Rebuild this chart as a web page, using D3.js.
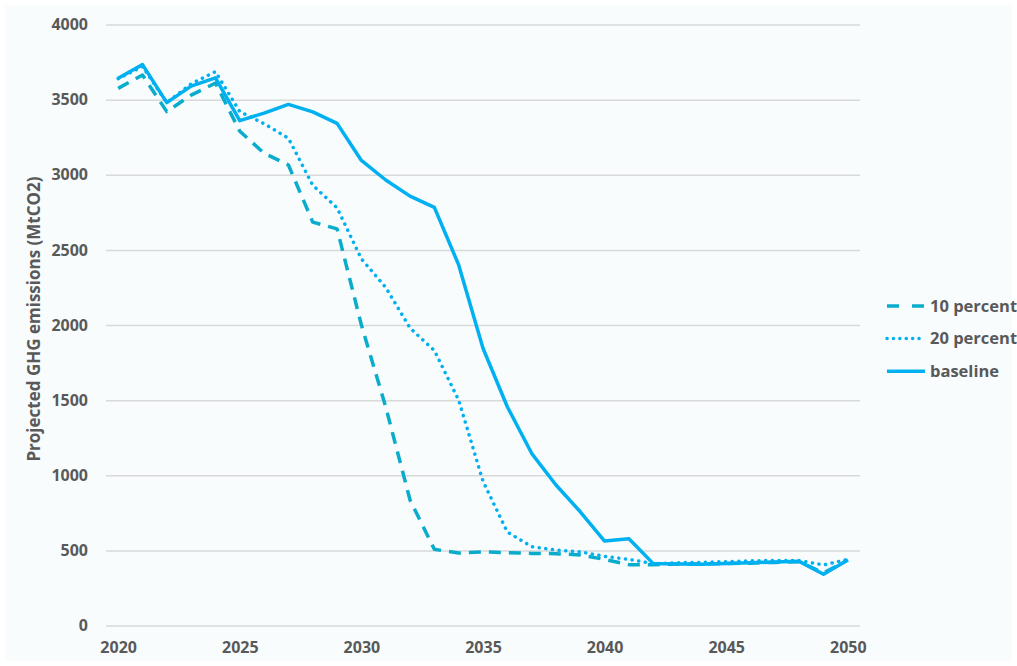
<!DOCTYPE html>
<html>
<head>
<meta charset="utf-8">
<script src="https://cdn.jsdelivr.net/npm/d3@7/dist/d3.min.js"></script>
<style>
  body { margin: 0; background: #ffffff; }
  text { font-family: "Open Sans", "Liberation Sans", sans-serif; font-weight: bold; fill: #595959; }
</style>
</head>
<body>
<div id="chart"></div>
<script>
// Chart data
var years = d3.range(2020, 2051);
var xTicks = [2020, 2025, 2030, 2035, 2040, 2045, 2050];
var yTicks = [0, 500, 1000, 1500, 2000, 2500, 3000, 3500, 4000];

var tenPercent = [3575, 3664, 3420, 3530, 3610, 3290, 3143, 3065, 2685, 2640,
                  2000, 1455, 835, 507, 482, 490, 485, 480, 478, 470,
                  440, 405, 405, 410, 410, 412, 415, 420, 425, 350, 436];
var twentyPercent = [3640, 3720, 3480, 3605, 3686, 3420, 3340, 3243, 2930, 2780,
                     2440, 2250, 1980, 1830, 1500, 960, 622, 525, 502, 490,
                     460, 440, 412, 418, 420, 425, 430, 433, 432, 403, 440];
var baseline = [3642, 3733, 3480, 3590, 3645, 3360, 3410, 3468, 3418, 3342,
                3095, 2965, 2858, 2783, 2400, 1845, 1456, 1146, 935, 757,
                562, 578, 412, 410, 407, 412, 418, 422, 427, 341, 436];

var seriesNames = ["10 percent", "20 percent", "baseline"];
var seriesValues = [tenPercent, twentyPercent, baseline];
var seriesColors = ["#0AACCB", "#00B0F0", "#00B0F0"];
var seriesDash = ["12,8", "0.1,6.6", null];

var svgWidth = 1017, svgHeight = 666;
var margin = { top: 24.5, left: 106, right: 157, bottom: 40.5 };
var chartWidth = svgWidth - margin.left - margin.right;
var chartHeight = svgHeight - margin.top - margin.bottom;

var svg = d3.select("#chart")
  .append("svg")
  .attr("width", svgWidth)
  .attr("height", svgHeight);

svg.append("rect")
  .attr("x", 5).attr("y", 5)
  .attr("width", svgWidth - 10).attr("height", svgHeight - 10)
  .attr("fill", "#f8fcfd");

var chartGroup = svg.append("g")
  .attr("transform", `translate(${margin.left}, ${margin.top})`);

// scales
var xScale = d3.scalePoint()
  .domain(years)
  .range([0, chartWidth])
  .padding(0.5);

var yScale = d3.scaleLinear()
  .domain([0, 4000])
  .range([chartHeight, 0]);

// gridlines
chartGroup.append("g")
  .call(d3.axisLeft(yScale).tickValues(yTicks).tickSize(-chartWidth).tickFormat(""))
  .call(g => g.select(".domain").remove())
  .selectAll("line")
  .attr("stroke", "#d9d9d9")
  .attr("stroke-width", 1.5);

// y axis labels
var yAxis = chartGroup.append("g")
  .call(d3.axisLeft(yScale).tickValues(yTicks).tickSize(0).tickPadding(18).tickFormat(d3.format("d")));
yAxis.select(".domain").remove();
yAxis.selectAll("text")
  .attr("font-size", "16px")
  .attr("font-family", "'Open Sans', sans-serif")
  .style("fill", "#595959");

// x axis labels
var xAxis = chartGroup.append("g")
  .attr("transform", `translate(0, ${chartHeight})`)
  .call(d3.axisBottom(xScale).tickValues(xTicks).tickSize(0).tickPadding(16));
xAxis.select(".domain").remove();
xAxis.selectAll("text")
  .attr("font-size", "16px")
  .attr("font-family", "'Open Sans', sans-serif")
  .style("fill", "#595959");

// lines
var line = d3.line()
  .x((d, i) => xScale(years[i]))
  .y(d => yScale(d));

seriesValues.forEach((vals, k) => {
  chartGroup.append("path")
    .datum(vals)
    .attr("d", line)
    .attr("fill", "none")
    .attr("stroke", seriesColors[k])
    .attr("stroke-width", 3.5)
    .attr("stroke-linejoin", "round")
    .attr("stroke-linecap", seriesDash[k] && seriesDash[k].startsWith("0.1") ? "round" : "butt")
    .attr("stroke-dasharray", seriesDash[k]);
});

// y axis title
svg.append("text")
  .attr("transform", `translate(40, 319)rotate(-90)`)
  .attr("text-anchor", "middle")
  .attr("font-size", "17px")
  .text("Projected GHG emissions (MtCO2)");

// legend
var legend = svg.append("g")
  .attr("transform", "translate(887, 306)");

seriesNames.forEach((name, k) => {
  var row = legend.append("g").attr("transform", `translate(0, ${k * 32.6})`);
  row.append("line")
    .attr("x1", 0).attr("x2", 38)
    .attr("y1", 0).attr("y2", 0)
    .attr("stroke", seriesColors[k])
    .attr("stroke-width", 3.5)
    .attr("stroke-linecap", seriesDash[k] && seriesDash[k].startsWith("0.1") ? "round" : "butt")
    .attr("stroke-dasharray", seriesDash[k] ? (k === 0 ? "12,13" : "0.1,6.3") : null);
  row.append("text")
    .attr("x", 43)
    .attr("y", 0)
    .attr("dy", "0.35em")
    .attr("font-size", "16.5px")
    .text(name);
});
</script>
</body>
</html>
